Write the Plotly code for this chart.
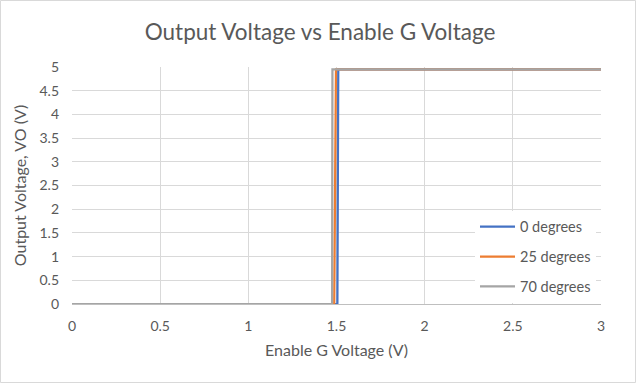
import plotly.graph_objects as go

# Data
x_0deg = [0, 1.505, 1.51, 3]
y_0deg = [0, 0, 4.95, 4.95]
x_25deg = [0, 1.487, 1.497, 3]
y_25deg = [0, 0, 4.95, 4.95]
x_70deg = [0, 1.475, 1.477, 3]
y_70deg = [0, 0, 4.95, 4.95]
series_names = ["0 degrees", "25 degrees", "70 degrees"]
colors = ["#4472C4", "#ED7D31", "#A5A5A5"]
x_ticks = [0, 0.5, 1, 1.5, 2, 2.5, 3]
x_tick_labels = ["0", "0.5", "1", "1.5", "2", "2.5", "3"]
y_ticks = [0, 0.5, 1, 1.5, 2, 2.5, 3, 3.5, 4, 4.5, 5]
y_tick_labels = ["0", "0.5", "1", "1.5", "2", "2.5", "3", "3.5", "4", "4.5", "5"]

W, H = 637, 384
ML, MR, MT, MB = 72, 36, 67, 80
FONT = "Lato, Open Sans, sans-serif"
TXT = "#595959"

fig = go.Figure()
for xs, ys, name, c in zip([x_0deg, x_25deg, x_70deg], [y_0deg, y_25deg, y_70deg], series_names, colors):
    fig.add_trace(go.Scatter(x=xs, y=ys, mode="lines", name=name, legendgroup=name,
                             line=dict(color=c, width=2.25)))

pw = W - ML - MR
ph = H - MT - MB
fig.add_shape(type="rect", xref="paper", yref="paper",
              x0=(-ML + 0.5) / pw, x1=(pw + MR - 1.5) / pw,
              y0=(-MB + 1.5) / ph, y1=(ph + MT - 0.5) / ph,
              line=dict(color="#D9D9D9", width=1), fillcolor="rgba(0,0,0,0)", layer="below")

fig.update_layout(
    width=W, height=H,
    margin=dict(l=ML, r=MR, t=MT, b=MB),
    paper_bgcolor="white", plot_bgcolor="white",
    font=dict(family=FONT, color=TXT, size=14),
    title=dict(text="Output Voltage vs Enable G Voltage", x=(143 + 497) / 2 / W, xanchor="center",
               y=1 - 32 / H, yanchor="middle", font=dict(size=22.5, color=TXT, family=FONT)),
    xaxis=dict(range=[0, 3], tickvals=x_ticks, ticktext=x_tick_labels, showgrid=True,
               gridcolor="#D9D9D9", gridwidth=1, zeroline=False, showline=True,
               linecolor="#BFBFBF", linewidth=1, ticks="", ticklabelstandoff=9,
               tickfont=dict(size=14, color=TXT),
               title=dict(text="Enable G Voltage (V)", font=dict(size=16, color=TXT), standoff=12)),
    yaxis=dict(range=[0, 5], tickvals=y_ticks, ticktext=y_tick_labels, showgrid=True,
               gridcolor="#D9D9D9", gridwidth=1, zeroline=False, showline=False, ticks="",
               ticklabelstandoff=12,
               tickfont=dict(size=14, color=TXT),
               title=dict(text="Output Voltage, VO (V)", font=dict(size=16, color=TXT), standoff=8)),
    legend=dict(x=1 - 5 / pw, xanchor="right", y=0.005, yanchor="bottom", bgcolor="white",
                font=dict(size=14.5, color=TXT), tracegroupgap=8, itemwidth=35,
                traceorder="grouped"),
    showlegend=True,
)

fig.write_html("out.html", config={"displayModeBar": False},
               post_script="document.body.style.margin='0';document.body.style.overflow='hidden';")
